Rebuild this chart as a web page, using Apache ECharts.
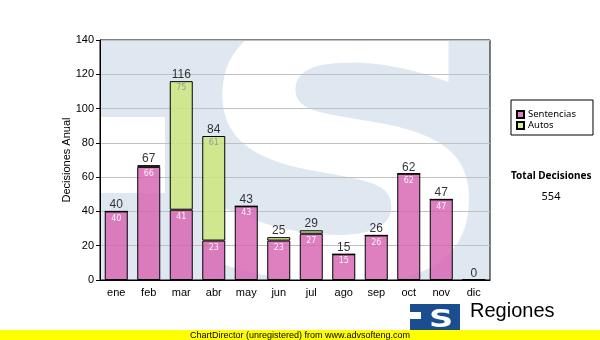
<!DOCTYPE html>
<html>
<head>
<meta charset="utf-8">
<script src="https://cdn.jsdelivr.net/npm/echarts@6/dist/echarts.min.js"></script>
<style>
  html, body { margin: 0; padding: 0; background: #ffffff; }
  #chart { width: 600px; height: 340px; }
</style>
</head>
<body>
<div id="chart"></div>
<script>
// Monthly decisions, split into sentences and orders
const meses = ['ene', 'feb', 'mar', 'abr', 'may', 'jun', 'jul', 'ago', 'sep', 'oct', 'nov', 'dic'];
const sentencias = [40, 66, 41, 23, 43, 23, 27, 15, 26, 62, 47, 0];
const autos = [0, 1, 75, 61, 0, 2, 2, 0, 0, 0, 0, 0];
const yMin = 0;
const yMax = 140;
const yStep = 20;

const totales = meses.map((_, i) => sentencias[i] + autos[i]);
const totalDecisiones = totales.reduce((a, b) => a + b, 0);

const SANS = '"Liberation Sans", Arial, sans-serif';
const VERD = '"DejaVu Sans", Verdana, sans-serif';
const TAHO = '"Noto Sans", Tahoma, sans-serif';

const chart = echarts.init(document.getElementById('chart'), null, { renderer: 'canvas' });

chart.setOption({
  animation: false,
  backgroundColor: '#ffffff',
  grid: {
    left: 100, right: 110, top: 40, bottom: 60,
    show: true, borderColor: '#000000', borderWidth: 1,
    backgroundColor: 'transparent'
  },
  legend: {
    data: ['Sentencias', 'Autos'],
    orient: 'vertical',
    left: 511, top: 100,
    padding: [9, 17, 4, 5],
    itemGap: 0,
    itemWidth: 7, itemHeight: 7,
    icon: 'rect',
    backgroundColor: '#ffffff',
    borderColor: '#000000', borderWidth: 1,
    textStyle: { fontFamily: TAHO, fontSize: 9.5, color: '#000000', lineHeight: 11, padding: [0, 0, 0, -1] },
    selectedMode: false
  },
  xAxis: {
    type: 'category',
    data: meses,
    axisLine: { lineStyle: { color: '#000000', width: 1 } },
    axisTick: { alignWithLabel: true, length: 4, lineStyle: { color: '#000000' } },
    axisLabel: { fontFamily: SANS, fontSize: 11, color: '#000000', margin: 7 },
    splitLine: { show: false }
  },
  yAxis: {
    type: 'value',
    min: yMin, max: yMax, interval: yStep,
    name: 'Decisiones Anual',
    nameLocation: 'middle',
    nameGap: 28,
    nameMoveOverlap: false,
    nameTextStyle: { fontFamily: SANS, fontSize: 11, color: '#000000' },
    axisLine: { show: true, lineStyle: { color: '#000000', width: 1 } },
    axisTick: { show: true, length: 4, lineStyle: { color: '#000000' } },
    axisLabel: { fontFamily: SANS, fontSize: 11, color: '#000000', margin: 6 },
    splitLine: { show: true, lineStyle: { color: '#c0c0c0', width: 1 } }
  },
  graphic: [
    // faded logo watermark behind the plot
    { type: 'rect', z: -20, silent: true,
      shape: { x: 101, y: 41, width: 389, height: 239 },
      style: { fill: '#dfe8f1' } },
    { type: 'rect', z: -19, silent: true,
      shape: { x: 101, y: 117, width: 64, height: 76 },
      style: { fill: '#ffffff' } },
    { type: 'text', z: -19, silent: true,
      x: 346, y: 186, scaleX: 1.3, scaleY: 1.08,
      style: { text: 'S', font: 'bold 330px "DejaVu Sans"', fill: '#ffffff',
               textAlign: 'center', textVerticalAlign: 'middle' } },
    { type: 'rect', z: -18, silent: true,
      shape: { x: 95, y: 281, width: 400, height: 30 },
      style: { fill: '#ffffff' } },
    { type: 'rect', z: -18, silent: true,
      shape: { x: 95, y: 0, width: 400, height: 40 },
      style: { fill: '#ffffff' } },
    // side total
    { type: 'text', left: 511, top: 171, silent: true,
      style: { text: 'Total Decisiones', font: 'bold 10px ' + TAHO, fill: '#000000' } },
    { type: 'text', x: 551, y: 197, silent: true,
      style: { text: String(totalDecisiones), font: '11px ' + TAHO, fill: '#000000',
               textAlign: 'center', textVerticalAlign: 'middle' } },
    // footer logo
    { type: 'rect', silent: true,
      shape: { x: 410, y: 304, width: 50, height: 28 },
      style: { fill: '#1b4e8e' } },
    { type: 'rect', silent: true,
      shape: { x: 410, y: 312, width: 11, height: 7 },
      style: { fill: '#ffffff' } },
    { type: 'text', silent: true, x: 441, y: 321, scaleX: 1.4,
      style: { text: 'S', font: 'bold 24px "DejaVu Sans"', fill: '#ffffff',
               textAlign: 'center', textVerticalAlign: 'middle' } },
    { type: 'text', silent: true, x: 470, y: 321,
      style: { text: 'Regiones', font: '20px ' + SANS, fill: '#000000',
               textAlign: 'left', textVerticalAlign: 'bottom' } },
    // unregistered banner
    { type: 'rect', silent: true, z: 10,
      shape: { x: 0, y: 330, width: 600, height: 10 },
      style: { fill: '#ffff00' } },
    { type: 'text', silent: true, z: 11, x: 300, y: 335.5,
      style: { text: 'ChartDirector (unregistered) from www.advsofteng.com', font: '9px ' + SANS,
               fill: '#000000', textAlign: 'center', textVerticalAlign: 'middle' } }
  ],
  series: [
    {
      name: 'Sentencias',
      type: 'bar',
      stack: 'dec',
      barWidth: 23,
      data: sentencias,
      itemStyle: { color: 'rgba(214,96,176,0.8)', borderColor: '#000000', borderWidth: 1 },
      label: {
        show: true, position: 'insideTop', distance: 3,
        fontFamily: VERD, fontSize: 8, color: 'rgba(255,255,255,0.9)',
        formatter: p => (p.value > 0 ? String(p.value) : '')
      }
    },
    {
      name: 'Autos',
      type: 'bar',
      stack: 'dec',
      barWidth: 23,
      data: autos,
      itemStyle: { color: 'rgba(202,231,120,0.8)', borderColor: '#000000', borderWidth: 1 },
      label: {
        show: true, position: 'insideTop', distance: 3,
        fontFamily: VERD, fontSize: 8, color: '#9a9a9a',
        formatter: p => (p.value >= 10 ? String(p.value) : '')
      }
    },
    {
      name: 'Total',
      type: 'scatter',
      data: totales,
      symbolSize: 1,
      itemStyle: { color: 'rgba(0,0,0,0)' },
      label: {
        show: true, position: 'top', distance: 0,
        fontFamily: SANS, fontSize: 12, color: '#000000',
        formatter: p => String(p.value)
      },
      z: 5
    }
  ]
});
</script>
</body>
</html>
